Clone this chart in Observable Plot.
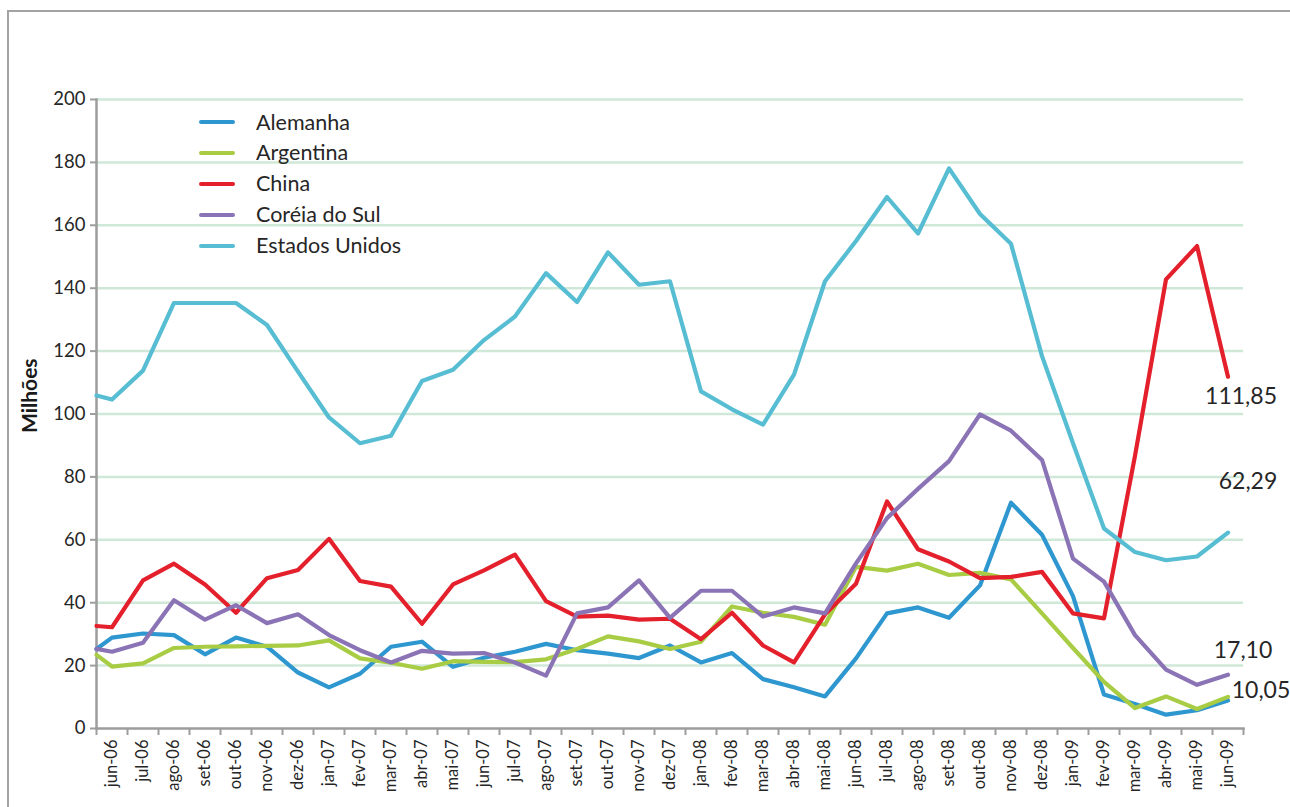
<!DOCTYPE html>
<html>
<head>
<meta charset="utf-8">
<script src="https://cdn.jsdelivr.net/npm/d3@7"></script>
<script src="https://cdn.jsdelivr.net/npm/@observablehq/plot@0.6"></script>
<style>
  html, body { margin: 0; padding: 0; background: #fff; overflow: hidden; }
  #wrap { position: relative; width: 1290px; height: 807px; font-family: Lato, "Open Sans", sans-serif; color: #262626; }
  #border { position: absolute; left: 7px; top: 10px; width: 1320px; height: 830px; border: 2px solid #a3a3a3; box-sizing: border-box; }
  #chart { position: absolute; left: 0; top: 0; }
  #legend { position: absolute; left: 199px; top: 107px; }
  .row { height: 30.8px; display: flex; align-items: center; }
  .sw { width: 36px; height: 4px; border-radius: 2px; margin-right: 21px; }
  .lb { font-size: 21.5px; line-height: 1; }
</style>
</head>
<body>
<div id="wrap">
  <div id="border"></div>
  <div id="chart"></div>
  <div id="legend"></div>
</div>
<script>
// Category labels (months)
const months = ["jun-06","jul-06","ago-06","set-06","out-06","nov-06","dez-06",
  "jan-07","fev-07","mar-07","abr-07","mai-07","jun-07","jul-07","ago-07","set-07","out-07","nov-07","dez-07",
  "jan-08","fev-08","mar-08","abr-08","mai-08","jun-08","jul-08","ago-08","set-08","out-08","nov-08","dez-08",
  "jan-09","fev-09","mar-09","abr-09","mai-09","jun-09"];

// Series names and colours
const seriesNames = ["Alemanha", "Argentina", "China", "Coréia do Sul", "Estados Unidos"];
const seriesColors = ["#2f97d0", "#a8cd45", "#e3202b", "#8b74b5", "#57bdd3"];

// Values (millions). First value of each array is the point drawn on the
// value axis (left edge), followed by one value per month jun-06 … jun-09.
const alemanha = [25.3, 28.9, 30.2, 29.7, 23.6, 28.9, 26.0, 17.8, 13.1, 17.4, 26.0, 27.6, 19.6, 22.5, 24.4, 26.9, 24.9, 23.8, 22.4, 26.4, 21.0, 24.0, 15.7, 13.1, 10.2, 22.3, 36.6, 38.5, 35.2, 45.5, 71.8, 61.6, 42.1, 10.8, 7.8, 4.4, 5.8, 8.9];
const argentina = [23.4, 19.7, 20.7, 25.6, 26.0, 26.1, 26.3, 26.4, 28.0, 22.3, 20.9, 19.0, 21.4, 21.2, 21.1, 22.0, 25.3, 29.3, 27.7, 25.3, 27.6, 38.8, 36.8, 35.5, 33.0, 51.4, 50.2, 52.4, 48.8, 49.5, 47.4, 36.6, 25.6, 14.8, 6.5, 10.2, 6.2, 10.05];
const china = [32.6, 32.2, 47.1, 52.4, 45.8, 36.8, 47.8, 50.4, 60.3, 46.9, 45.1, 33.3, 45.8, 50.3, 55.3, 40.5, 35.6, 35.9, 34.6, 34.9, 28.4, 36.8, 26.4, 21.0, 36.3, 46.0, 72.2, 57.0, 53.1, 47.8, 48.2, 49.8, 36.6, 35.0, 86.7, 142.8, 153.4, 111.85];
const coreia = [25.3, 24.4, 27.3, 40.8, 34.6, 39.2, 33.5, 36.3, 29.7, 24.9, 21.0, 24.7, 23.8, 24.0, 21.0, 16.8, 36.6, 38.5, 47.1, 35.2, 43.8, 43.8, 35.6, 38.5, 36.6, 52.5, 66.9, 76.2, 85.0, 99.9, 94.7, 85.4, 54.0, 46.7, 29.7, 18.7, 13.9, 17.1];
const eua = [105.9, 104.6, 113.8, 135.3, 135.3, 135.3, 128.3, 113.5, 98.9, 90.7, 93.1, 110.5, 114.1, 123.5, 131.0, 144.8, 135.6, 151.4, 141.1, 142.2, 107.2, 101.5, 96.6, 112.5, 142.2, 155.0, 169.0, 157.4, 178.1, 163.6, 154.1, 118.4, 90.7, 63.6, 56.1, 53.5, 54.7, 62.29];

// End labels
const endLabelSeries = ["China", "Estados Unidos", "Coréia do Sul", "Argentina"];
const endLabelTexts = ["111,85", "62,29", "17,10", "10,05"];

// y ticks
const yTicks = [0, 20, 40, 60, 80, 100, 120, 140, 160, 180, 200];

// ---- build table ----
const valueArrays = [alemanha, argentina, china, coreia, eua];
const rows = [];
valueArrays.forEach((vals, s) => {
  vals.forEach((v, k) => rows.push({ serie: seriesNames[s], x: k === 0 ? -0.5 : k - 1, y: v }));
});
const lastIdx = months.length - 1;
const labelOffsets = { "China": [13, 20], "Estados Unidos": [20, -51], "Coréia do Sul": [15, -24], "Argentina": [33, -6] };
const endRows = endLabelSeries.map((name, i) => {
  const vals = valueArrays[seriesNames.indexOf(name)];
  return { serie: name, x: lastIdx, y: vals[vals.length - 1], text: endLabelTexts[i] };
});

const boundaries = d3.range(0, months.length + 1).map(k => k - 0.5);

const chart = Plot.plot({
  width: 1290, height: 807,
  marginLeft: 96, marginRight: 47, marginTop: 99, marginBottom: 79,
  style: { fontFamily: "Lato, 'Open Sans', sans-serif", color: "#262626", background: "transparent", overflow: "visible" },
  x: { domain: [-0.5, months.length - 0.5], axis: null },
  y: { domain: [0, 200], axis: null },
  color: { domain: seriesNames, range: seriesColors },
  marks: [
    Plot.ruleY(yTicks.filter(t => t > 0), { stroke: "#cfe8d7", strokeWidth: 2.5 }),
    Plot.axisY({ ticks: yTicks, tickSize: 6, tickPadding: 5, fontSize: 18.5, stroke: "#9d9d9d", strokeWidth: 2, label: null }),
    Plot.axisX({ ticks: boundaries, tickSize: 7, tickFormat: () => "", stroke: "#9d9d9d", strokeWidth: 2, label: null }),
    Plot.axisX({ ticks: d3.range(0, months.length), tickSize: 0, tickPadding: 11, tickRotate: -90, tickFormat: i => months[i], fontSize: 16.5, label: null }),
    Plot.frame({ anchor: "left", stroke: "#9d9d9d", strokeWidth: 2.5 }),
    Plot.frame({ anchor: "bottom", stroke: "#9d9d9d", strokeWidth: 2.5 }),
    Plot.line(rows, { x: "x", y: "y", z: "serie", stroke: "serie", strokeWidth: 4.2, strokeLinejoin: "round" }),
    ...endRows.map(d => Plot.text([d], { x: "x", y: "y", text: "text", dx: labelOffsets[d.serie][0], dy: labelOffsets[d.serie][1], fontSize: 23, fill: "#262626" })),
    Plot.text(["Milhões"], { frameAnchor: "left", dx: -66, dy: 19, rotate: -90, fontSize: 21, fontWeight: "bold", fill: "#1a1a1a" })
  ]
});
document.getElementById("chart").appendChild(chart);

// legend
const legend = document.getElementById("legend");
seriesNames.forEach((n, i) => {
  const r = document.createElement("div");
  r.className = "row";
  r.innerHTML = `<div class="sw" style="background:${seriesColors[i]}"></div><div class="lb">${n}</div>`;
  legend.appendChild(r);
});
</script>
</body>
</html>
